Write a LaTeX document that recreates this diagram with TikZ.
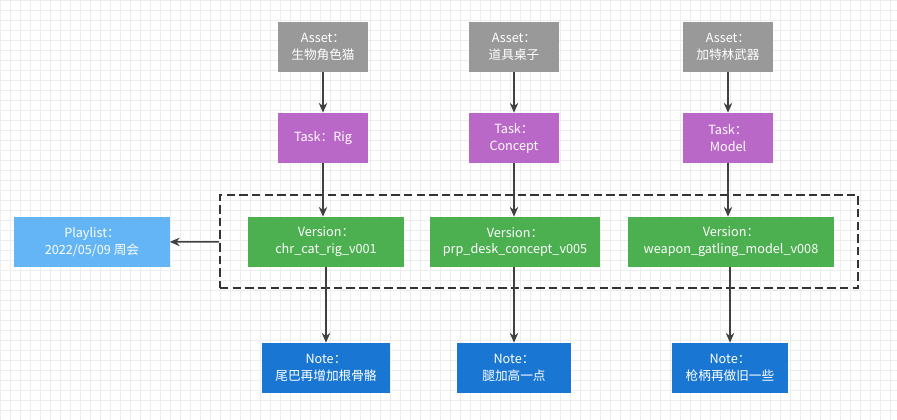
\documentclass[tikz,border=0pt]{standalone}
\usepackage{fontspec}
\setmainfont{Noto Sans CJK SC}
\usetikzlibrary{arrows.meta}
\begin{document}
\begin{tikzpicture}[x=0.025cm,y=-0.025cm,
  box/.style={shape=rectangle,text=white,font=\fontsize{9}{12}\selectfont,align=center,minimum height=1.25cm,inner sep=0pt},
  conn/.style={-{Stealth[length=7pt,width=6pt]},line width=1pt,color=black!75}]
\definecolor{asset_bg}{RGB}{153,153,153}
\definecolor{task_bg}{RGB}{186,104,200}
\definecolor{version_bg}{RGB}{76,175,80}
\definecolor{playlist_bg}{RGB}{100,181,246}
\definecolor{note_bg}{RGB}{25,118,210}
\useasboundingbox (0,0) rectangle (897,420);
\draw[black!7,step=0.25cm] (0,0) grid (897,420);
% assets
\node[box,fill=asset_bg,minimum width=2.25cm] (asset1) at (323,47) {Asset：\\生物角色猫};
\node[box,fill=asset_bg,minimum width=2.25cm] (asset2) at (514,47) {Asset：\\道具桌子};
\node[box,fill=asset_bg,minimum width=2.25cm] (asset3) at (728,47) {Asset：\\加特林武器};
% tasks
\node[box,fill=task_bg,minimum width=2.25cm] (task1) at (323,138) {Task：Rig};
\node[box,fill=task_bg,minimum width=2.25cm] (task2) at (514,138) {Task：\\Concept};
\node[box,fill=task_bg,minimum width=2.25cm] (task3) at (728,138) {Task：\\Model};
% versions
\node[box,fill=version_bg,minimum width=3.875cm] (ver1) at (326,242) {Version：\\chr\_cat\_rig\_v001};
\node[box,fill=version_bg,minimum width=4.25cm] (ver2) at (515,242) {Version：\\prp\_desk\_concept\_v005};
\node[box,fill=version_bg,minimum width=5.125cm] (ver3) at (731,242) {Version：\\weapon\_gatling\_model\_v008};
\node[draw=black!80,dash pattern=on 6pt off 3pt,line width=1pt,minimum width=15.95cm,minimum height=2.325cm,inner sep=0pt] (group) at (539,241.5) {};
\node[box,fill=playlist_bg,minimum width=3.875cm] (playlist) at (92,242) {Playlist：\\2022/05/09 周会};
% notes
\node[box,fill=note_bg,minimum width=3.175cm] (note1) at (326,368) {Note：\\尾巴再增加根骨骼};
\node[box,fill=note_bg,minimum width=2.825cm] (note2) at (514,368) {Note：\\腿加高一点};
\node[box,fill=note_bg,minimum width=2.875cm] (note3) at (730,368) {Note：\\枪柄再做旧一些};
\draw[conn] (asset1) -- (task1);
\draw[conn] (asset2) -- (task2);
\draw[conn] (asset3) -- (task3);
\draw[conn] (task1) -- (task1|-ver1.north);
\draw[conn] (task2) -- (task2|-ver2.north);
\draw[conn] (task3) -- (task3|-ver3.north);
\draw[conn] (note1|-ver1.south) -- (note1);
\draw[conn] (note2|-ver2.south) -- (note2);
\draw[conn] (note3|-ver3.south) -- (note3);
\draw[conn] (group) -- (playlist);
\end{tikzpicture}
\end{document}
